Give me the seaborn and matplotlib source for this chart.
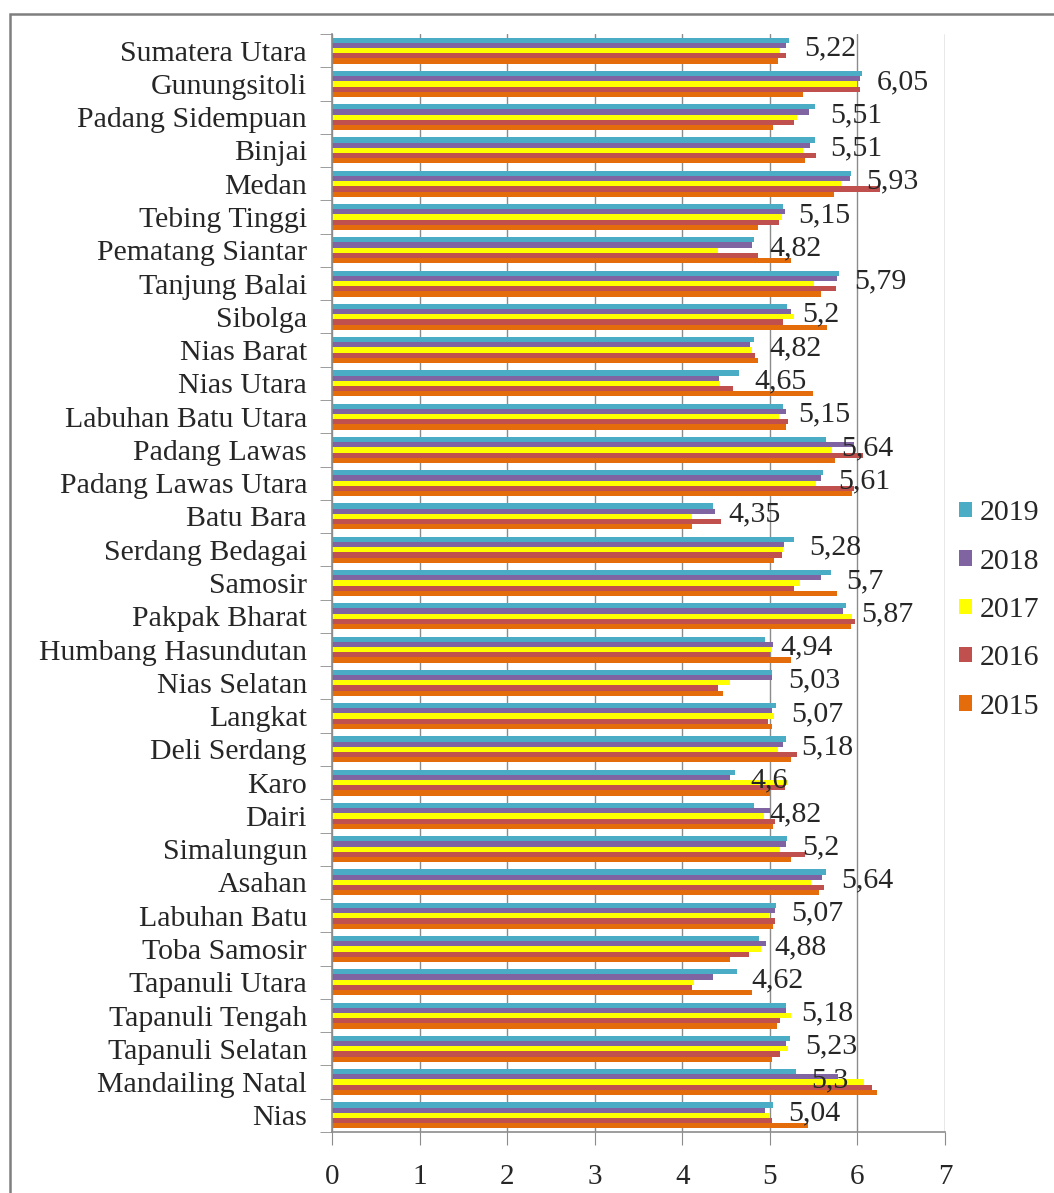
import matplotlib

matplotlib.use("Agg")

import matplotlib.pyplot as plt
import numpy as np
import pandas as pd
import seaborn as sns
from matplotlib.patches import Rectangle
from matplotlib.ticker import FixedLocator

regions = [
    "Sumatera Utara", "Gunungsitoli", "Padang Sidempuan", "Binjai", "Medan",
    "Tebing Tinggi", "Pematang Siantar", "Tanjung Balai", "Sibolga", "Nias Barat",
    "Nias Utara", "Labuhan Batu Utara", "Padang Lawas", "Padang Lawas Utara",
    "Batu Bara", "Serdang Bedagai", "Samosir", "Pakpak Bharat",
    "Humbang Hasundutan", "Nias Selatan", "Langkat", "Deli Serdang", "Karo",
    "Dairi", "Simalungun", "Asahan", "Labuhan Batu", "Toba Samosir",
    "Tapanuli Utara", "Tapanuli Tengah", "Tapanuli Selatan", "Mandailing Natal",
    "Nias",
]

years = ["2019", "2018", "2017", "2016", "2015"]

v2019 = [5.22, 6.05, 5.51, 5.51, 5.93, 5.15, 4.82, 5.79, 5.2, 4.82, 4.65, 5.15,
         5.64, 5.61, 4.35, 5.28, 5.7, 5.87, 4.94, 5.03, 5.07, 5.18, 4.6, 4.82,
         5.2, 5.64, 5.07, 4.88, 4.62, 5.18, 5.23, 5.3, 5.04]
v2018 = [5.18, 6.03, 5.45, 5.46, 5.91, 5.17, 4.80, 5.77, 5.24, 4.77, 4.42, 5.19,
         5.96, 5.58, 4.37, 5.16, 5.58, 5.84, 5.04, 5.02, 5.02, 5.15, 4.55, 5.00,
         5.18, 5.60, 5.06, 4.96, 4.35, 5.19, 5.18, 5.78, 4.95]
v2017 = [5.12, 6.00, 5.31, 5.38, 5.81, 5.14, 4.41, 5.50, 5.27, 4.80, 4.43, 5.11,
         5.71, 5.53, 4.11, 5.15, 5.34, 5.94, 5.02, 4.55, 5.05, 5.09, 5.21, 4.93,
         5.12, 5.47, 4.99, 4.90, 4.13, 5.24, 5.21, 6.08, 5.00]
v2016 = [5.18, 6.03, 5.28, 5.53, 6.26, 5.11, 4.86, 5.75, 5.15, 4.83, 4.58, 5.21,
         6.06, 5.96, 4.44, 5.14, 5.27, 5.97, 5.00, 4.41, 4.98, 5.31, 5.17, 5.06,
         5.40, 5.62, 5.06, 4.76, 4.11, 5.12, 5.12, 6.17, 5.02]
v2015 = [5.09, 5.38, 5.04, 5.40, 5.73, 4.86, 5.24, 5.58, 5.65, 4.87, 5.49, 5.18,
         5.74, 5.94, 4.11, 5.05, 5.77, 5.93, 5.24, 4.46, 5.02, 5.24, 5.00, 5.04,
         5.24, 5.56, 5.04, 4.55, 4.80, 5.08, 5.02, 6.22, 5.43]

colors = ["#4BACC6", "#8064A2", "#FFFF00", "#C0504D", "#E46C0A"]

series = [v2019, v2018, v2017, v2016, v2015]
rows = []
for year, values in zip(years, series):
    for region, value in zip(regions, values):
        rows.append({"region": region, "year": year, "value": value})
df = pd.DataFrame(rows)

sns.set_style("white")
plt.rcParams["font.family"] = ["Liberation Serif", "DejaVu Serif"]

fig = plt.figure(figsize=(10.54, 11.93), dpi=100)
ax = fig.add_axes([332 / 1054, 1 - 1132 / 1193, (945 - 332) / 1054, (1132 - 34) / 1193])

sns.barplot(
    data=df, x="value", y="region", hue="year", order=regions, hue_order=years,
    palette=colors, orient="h", width=0.78, saturation=1, ax=ax, errorbar=None,
    linewidth=0, edgecolor="none",
)

grid_c = "#8c8c8c"
ax.set_xlim(0, 7)
ax.set_ylim(len(regions) - 0.5, -0.5)
ax.set_xticks(range(8))
ax.grid(axis="x", color=grid_c, linewidth=1)
ax.set_axisbelow(True)
ax.set_xlabel("")
ax.set_ylabel("")
for side in ["top", "right"]:
    ax.spines[side].set_visible(False)
for side in ["left", "bottom"]:
    ax.spines[side].set_color(grid_c)
    ax.spines[side].set_linewidth(1.2)

ax.tick_params(axis="x", length=9, color=grid_c, labelsize=21, pad=14, direction="out", bottom=True)
ax.tick_params(axis="y", which="major", length=0, labelsize=21.5, pad=18)
ax.yaxis.set_minor_locator(FixedLocator(np.arange(-0.5, len(regions), 1.0)))
ax.tick_params(axis="y", which="minor", length=9, color=grid_c, direction="out", left=True)

# 2019 value labels, comma as decimal separator
for i, v in enumerate(v2019):
    ax.annotate(
        f"{v:g}".replace(".", ","), xy=(v, i - 0.06), xytext=(11, 0),
        textcoords="offset points", va="center", ha="left", fontsize=21.5,
    )

handles, leg_labels = ax.get_legend_handles_labels()
ax.legend(
    handles, leg_labels, loc="center left", bbox_to_anchor=(959 / 1054, 1 - 610 / 1193),
    bbox_transform=fig.transFigure, frameon=False, fontsize=21.5,
    borderaxespad=0, borderpad=0,
    handlelength=0.42, handleheight=0.42, handletextpad=0.28, labelspacing=0.75,
)

fig.patches.append(Rectangle(
    (10 / 1054, -0.1), 1.0, 1 - 14 / 1193 + 0.1, transform=fig.transFigure,
    fill=False, edgecolor="#7f7f7f", linewidth=1.8,
))

fig.savefig("out.png", dpi=100)
plt.close(fig)
